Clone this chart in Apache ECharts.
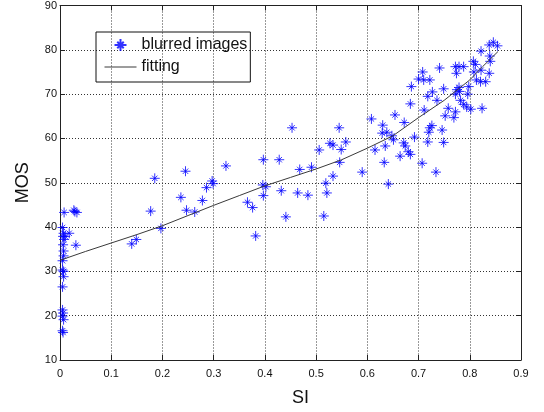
<!DOCTYPE html>
<html>
<head>
<meta charset="utf-8">
<script src="https://cdn.jsdelivr.net/npm/echarts@6/dist/echarts.min.js"></script>
<style>
html,body{margin:0;padding:0;background:#fff;}
#chart{width:544px;height:412px;}
</style>
</head>
<body>
<div id="chart"></div>
<script>
// Scatter data: SI (x) and MOS (y) for blurred images
var siValues = [
  0.008,0.027,0.033,0.029,0.005,0.007,0.006,0.010,0.018,0.008,0.031,0.006,0.007,0.007,0.005,0.005,0.007,0.007,0.005,0.005,0.006,0.005,0.007,0.005,0.006,
  0.140,0.149,0.177,0.185,0.197,0.236,0.245,0.247,0.263,0.278,0.286,0.297,0.299,0.324,0.366,0.376,0.382,0.396,0.402,0.397,0.397,0.428,0.432,0.441,0.453,
  0.464,0.468,0.484,0.491,0.506,0.515,0.519,0.521,0.527,0.533,0.533,0.545,0.546,0.549,0.558,0.590,0.608,0.615,
  0.629,0.630,0.633,0.635,0.638,0.641,0.648,0.651,0.654,0.664,0.671,0.672,0.674,0.680,0.684,0.684,0.686,0.692,0.700,0.707,
  0.708,0.710,0.711,0.718,0.718,0.720,0.722,0.722,0.726,0.727,0.734,0.736,0.741,0.746,0.749,0.749,0.752,0.758,
  0.769,0.772,0.772,0.772,0.774,0.775,0.779,0.779,0.780,0.782,0.788,0.788,0.794,0.796,0.798,0.802,0.807,0.808,0.811,0.813,
  0.821,0.822,0.822,0.824,0.831,0.838,0.838,0.839,0.840,0.846,0.854
];
var mosValues = [
  43.3,43.8,43.3,43.5,39.9,38.6,37.9,37.9,38.6,37.2,35.9,36.0,34.6,33.5,32.4,30.3,30.0,28.8,26.5,21.3,20.6,19.9,19.1,16.6,16.2,
  36.2,37.2,43.6,51.0,39.7,46.7,52.6,43.8,43.4,46.0,48.9,50.4,49.8,53.8,45.6,44.4,38.0,49.5,49.1,47.1,55.2,55.2,48.2,42.3,62.4,
  47.7,53.0,47.2,53.5,57.4,42.5,49.9,47.7,58.9,58.5,51.5,62.4,54.6,57.5,59.2,52.4,64.4,57.4,
  61.2,63.0,54.6,58.3,61.4,49.7,60.6,59.7,65.3,56.0,59.0,63.6,58.3,57.0,56.4,67.8,71.7,60.3,73.4,54.4,
  75.0,73.2,66.4,69.5,59.2,61.4,73.2,62.4,62.9,70.5,52.4,68.6,75.9,61.9,71.2,59.1,65.1,66.8,
  64.7,66.0,70.0,76.2,74.7,71.0,71.5,76.2,70.6,68.6,76.2,67.7,67.1,70.0,71.7,66.6,77.4,75.0,76.7,73.2,
  72.8,79.7,75.4,66.8,72.8,81.1,74.7,78.6,77.4,81.7,80.9
];
// Fitted curve
var fitSI  = [0,0.05,0.1,0.15,0.2,0.25,0.3,0.35,0.4,0.45,0.5,0.55,0.6,0.65,0.7,0.75,0.8,0.825,0.855];
var fitMOS = [32.5,34.5,36.4,38.3,40.3,42.6,44.9,47.1,49.3,51.2,53.1,55.2,57.8,60.6,64.7,68.6,73.2,76.2,79.6];
// Axis ticks
var xTicks = {min:0, max:0.9, interval:0.1};
var yTicks = {min:10, max:90, interval:10};
var seriesNames = ['blurred images','fitting'];
var axisNames = {x:'SI', y:'MOS'};

var scatterData = siValues.map(function(v,i){return [v, mosValues[i]];});
var fitData = fitSI.map(function(v,i){return [v, fitMOS[i]];});

var FONT = 'Liberation Sans, Arial, Helvetica, sans-serif';
var star = 'path://M5,0L5,10M0,5L10,5M2.3,2.3L7.7,7.7M2.3,7.7L7.7,2.3';

function baseAxis(t){
  return {
    type:'value', min:t.min, max:t.max, interval:t.interval,
    axisLine:{show:true, onZero:false, lineStyle:{color:'#222', width:1}},
    axisTick:{show:true, inside:true, length:5, lineStyle:{color:'#222'}},
    splitLine:{show:false}
  };
}

var xMain = baseAxis(xTicks);
xMain.position = 'bottom';
xMain.axisLabel = {show:true, color:'#111', fontSize:11, fontFamily:FONT, margin:8,
  formatter:function(v){return String(Math.round(v*10)/10);}};
xMain.splitLine = {show:true, lineStyle:{color:'#333', type:[1,2], width:1}};
xMain.name = axisNames.x; xMain.nameLocation = 'middle'; xMain.nameGap = 29;
xMain.nameTextStyle = {fontSize:18, color:'#111', fontFamily:FONT, padding:[0,0,0,20]};

var xTop = baseAxis(xTicks);
xTop.position = 'top'; xTop.axisLabel = {show:false};

var yMain = baseAxis(yTicks);
yMain.position = 'left';
yMain.axisLabel = {show:true, color:'#111', fontSize:11, fontFamily:FONT, margin:3};
yMain.splitLine = {show:true, lineStyle:{color:'#333', type:[1,2], width:1}};
yMain.name = axisNames.y; yMain.nameLocation = 'middle'; yMain.nameGap = 28;
yMain.nameTextStyle = {fontSize:18, color:'#111', fontFamily:FONT};

var yRight = baseAxis(yTicks);
yRight.position = 'right'; yRight.axisLabel = {show:false};

var chart = echarts.init(document.getElementById('chart'), null, {renderer:'canvas'});
chart.setOption({
  animation:false,
  backgroundColor:'#fff',
  grid:{left:60, right:23, top:4.5, bottom:43, containLabel:false},
  xAxis:[xMain, xTop],
  yAxis:[yMain, yRight],
  legend:{
    left:96, top:32, orient:'vertical',
    padding:[5,3,7,8], itemGap:6, itemWidth:32, itemHeight:12,
    borderColor:'#111', borderWidth:1, backgroundColor:'transparent',
    data:[
      {name:seriesNames[0]},
      {name:seriesNames[1], itemStyle:{opacity:0}, lineStyle:{color:'#3a3a3a', width:1, opacity:1}}
    ],
    textStyle:{fontSize:16, color:'#111', fontFamily:FONT, width:112, align:'center'}
  },
  series:[
    {
      name:seriesNames[0], type:'scatter', data:scatterData,
      symbol:star, symbolSize:10, symbolKeepAspect:true,
      itemStyle:{color:'rgba(0,0,0,0)', borderColor:'#0000ff', borderWidth:1},
      z:3
    },
    {
      name:seriesNames[1], type:'line', data:fitData,
      symbol:'none', showSymbol:false, smooth:false,
      lineStyle:{color:'#3a3a3a', width:1},
      itemStyle:{color:'#3a3a3a'},
      z:4
    }
  ]
});
</script>
</body>
</html>
